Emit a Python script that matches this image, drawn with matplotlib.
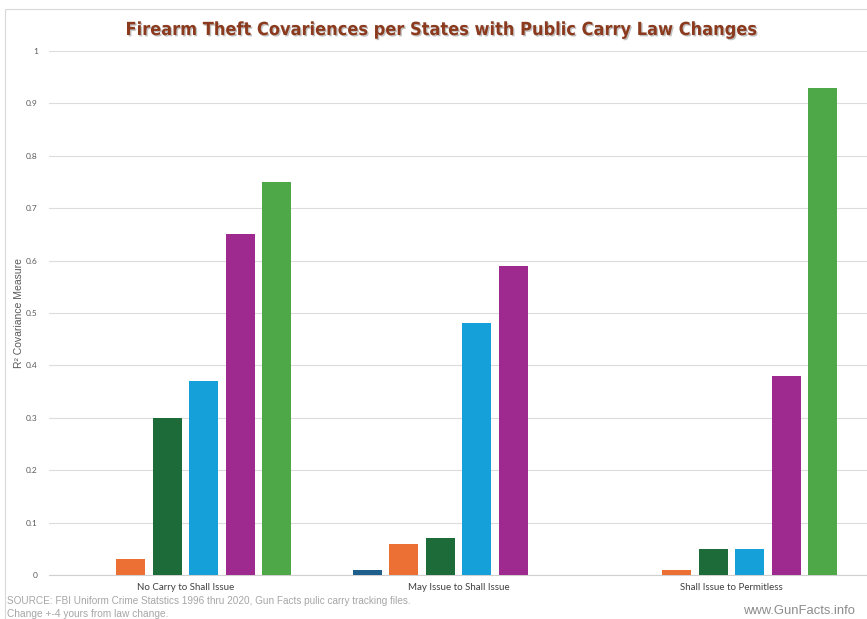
import numpy as np
import matplotlib.pyplot as plt
import matplotlib.patheffects as pe
from matplotlib.patches import Rectangle

categories = ["No Carry to Shall Issue", "May Issue to Shall Issue", "Shall Issue to Permitless"]
series_colors = ["#1F5F8B", "#EC7033", "#1C6B38", "#15A0DA", "#9E2A90", "#4EA848"]
# one list per series, values per category
s1 = [0.00, 0.01, 0.00]
s2 = [0.03, 0.06, 0.01]
s3 = [0.30, 0.07, 0.05]
s4 = [0.37, 0.48, 0.05]
s5 = [0.65, 0.59, 0.38]
s6 = [0.75, 0.00, 0.93]
series = [s1, s2, s3, s4, s5, s6]
yticks = [0, 0.1, 0.2, 0.3, 0.4, 0.5, 0.6, 0.7, 0.8, 0.9, 1]
ytick_labels = ["0", "0.1", "0.2", "0.3", "0.4", "0.5", "0.6", "0.7", "0.8", "0.9", "1"]

fig = plt.figure(figsize=(8.67, 6.19), dpi=100)
ax = fig.add_axes([49 / 867, 44 / 619, 819 / 867, 524 / 619])

x = np.arange(len(categories))
pitch = 0.1337
width = 0.106
for i, (vals, col) in enumerate(zip(series, series_colors)):
    ax.bar(x + (i - 2.5) * pitch, vals, width, color=col, zorder=3)

ax.set_xlim(-0.5, 2.5)
ax.set_ylim(0, 1)
ax.set_yticks(yticks, ytick_labels)
ax.set_xticks(x, categories)
ax.tick_params(axis="y", length=0, pad=8, labelsize=6, labelcolor="#595959")
ax.tick_params(axis="x", length=0, pad=6, labelsize=7, labelcolor="#404040")
for lab in ax.get_xticklabels() + ax.get_yticklabels():
    lab.set_family("Lato")
ax.grid(axis="y", color="#DCDCDC", linewidth=0.8, zorder=0)
for side in ["top", "right", "left"]:
    ax.spines[side].set_visible(False)
ax.spines["bottom"].set_color("#D0D0D0")
ax.spines["bottom"].set_linewidth(0.8)

ax.set_ylabel("R² Covariance Measure", fontsize=7.5, color="#595959", family="Liberation Sans")
ax.yaxis.set_label_coords(-25 / 819, 0.5)

# chart frame
fig.patches.append(Rectangle((5 / 867, -0.1), 1.1, (619 - 9) / 619 + 0.1, transform=fig.transFigure,
                             fill=False, edgecolor="#D9D9D9", linewidth=0.8))

title = fig.text(441 / 867, 1 - 30 / 619,
                 "Firearm Theft Covariences per States with Public Carry Law Changes",
                 ha="center", va="center", fontsize=13, fontweight="bold",
                 fontstretch="condensed", family="DejaVu Sans", color="#8B3A1E")
title.set_path_effects([pe.withSimplePatchShadow(offset=(1.0, -1.0), shadow_rgbFace="#999999", alpha=0.6)])

fig.text(7 / 867, 1 - 601 / 619,
         "SOURCE: FBI Uniform Crime Statstics 1996 thru 2020, Gun Facts pulic carry tracking files.",
         ha="left", va="center", fontsize=7.2, color="#A6A6A6", family="Liberation Sans")
fig.text(7 / 867, 1 - 614 / 619, "Change +-4 yours from law change.",
         ha="left", va="center", fontsize=7.3, color="#A6A6A6", family="Liberation Sans")
fig.text(855 / 867, 1 - 611 / 619, "www.GunFacts.info",
         ha="right", va="center", fontsize=9.4, color="#8C8C8C", family="Liberation Sans")

fig.savefig("out.png", dpi=100)
